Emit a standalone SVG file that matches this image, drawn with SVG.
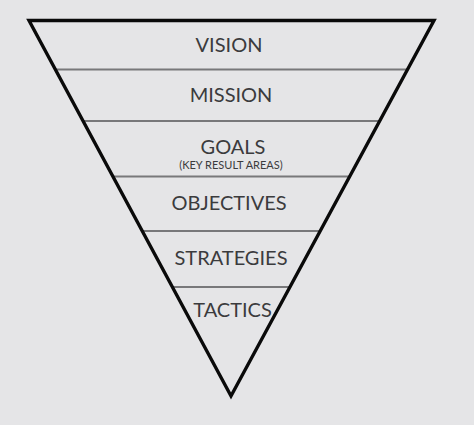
<svg xmlns="http://www.w3.org/2000/svg" width="474" height="425" viewBox="0 0 474 425">
<style>
.lbl{font-family:Lato,"Open Sans","Liberation Sans",sans-serif;fill:#3b3b3d;text-anchor:middle;font-size:20px}
.sub{font-size:11px}
.div{stroke:#78787a;stroke-width:2.2;fill:none}
.tri{stroke:#0a0a0a;stroke-width:3.4;fill:none;stroke-linejoin:miter}
</style>
<rect width="474" height="425" fill="#e5e5e7"/>
<g id="connectors">
<line class="div" x1="55" y1="69.5" x2="407" y2="69.5"/>
<line class="div" x1="83" y1="121" x2="380" y2="121"/>
<line class="div" x1="113" y1="176.5" x2="350" y2="176.5"/>
<line class="div" x1="142" y1="231" x2="320" y2="231"/>
<line class="div" x1="172" y1="287" x2="291" y2="287"/>
</g>
<g id="pyramid">
<polygon class="tri" points="29,20.5 434,20.5 231,396"/>
</g>
<g id="vision"><text class="lbl" x="229" y="52">VISION</text></g>
<g id="mission"><text class="lbl" x="231" y="102">MISSION</text></g>
<g id="goals"><text class="lbl" x="233" y="154">GOALS</text><text class="lbl sub" x="231" y="169">(KEY RESULT AREAS)</text></g>
<g id="objectives"><text class="lbl" x="229" y="210">OBJECTIVES</text></g>
<g id="strategies"><text class="lbl" x="231" y="265">STRATEGIES</text></g>
<g id="tactics"><text class="lbl" x="232.5" y="317">TACTICS</text></g>
</svg>
